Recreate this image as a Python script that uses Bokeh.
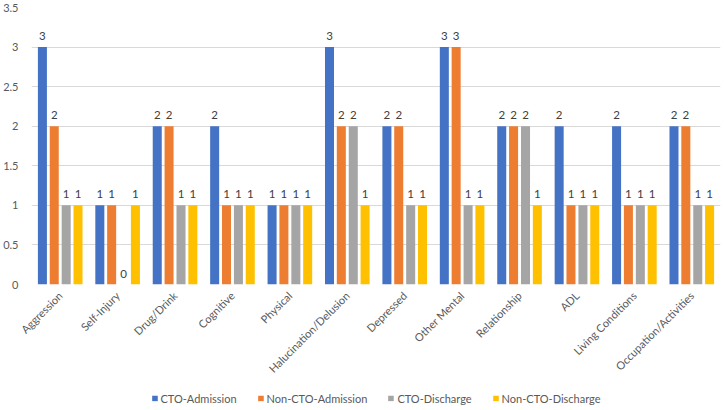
import math
from bokeh.plotting import figure
from bokeh.layouts import column
from bokeh.models import ColumnDataSource, FactorRange, Legend, LegendItem
from bokeh.transform import dodge
from bokeh.core.properties import value
from bokeh.embed import file_html
from bokeh.resources import INLINE

categories = ["Aggression", "Self-Injury", "Drug/Drink", "Cognitive", "Physical",
              "Halucination/Delusion", "Depressed", "Other Mental", "Relationship",
              "ADL", "Living Conditions", "Occupation/Activities"]
series_names = ["CTO-Admission", "Non-CTO-Admission", "CTO-Discharge", "Non-CTO-Discharge"]
cto_admission = [3, 1, 2, 2, 1, 3, 2, 3, 2, 2, 2, 2]
non_cto_admission = [2, 1, 2, 1, 1, 2, 2, 3, 2, 1, 1, 2]
cto_discharge = [1, 0, 1, 1, 1, 2, 1, 1, 2, 1, 1, 1]
non_cto_discharge = [1, 1, 1, 1, 1, 1, 1, 1, 1, 1, 1, 1]
y_ticks = [0, 0.5, 1, 1.5, 2, 2.5, 3, 3.5]

colors = ["#4472C4", "#ED7D31", "#A5A5A5", "#FFC000"]
offsets = [-0.31, -0.104, 0.104, 0.31]
FONT = "Lato"

src = ColumnDataSource(dict(
    cat=categories,
    s0=cto_admission, s1=non_cto_admission, s2=cto_discharge, s3=non_cto_discharge,
    l0=[str(v) for v in cto_admission], l1=[str(v) for v in non_cto_admission],
    l2=[str(v) for v in cto_discharge], l3=[str(v) for v in non_cto_discharge],
))

p = figure(width=725, height=388, x_range=FactorRange(*categories, range_padding=0),
           y_range=(0, 3.5), output_backend="svg", toolbar_location=None,
           min_border_left=30, min_border_right=5, min_border_top=7, min_border_bottom=104)
p.background_fill_color = "white"
p.border_fill_color = "white"
p.outline_line_color = None

for i in range(4):
    p.vbar(x=dodge("cat", offsets[i], range=p.x_range), top="s%d" % i, width=0.157,
           source=src, fill_color=colors[i], line_color=None)
    p.text(x=dodge("cat", offsets[i], range=p.x_range), y="s%d" % i, text="l%d" % i,
           source=src, text_align="center", text_baseline="bottom", y_offset=-7,
           text_font=value(FONT), text_font_size="11.5px", text_color="#404040")

p.yaxis.ticker = y_ticks
for ax in (p.xaxis, p.yaxis):
    ax.axis_line_color = None
    ax.major_tick_line_color = None
    ax.minor_tick_line_color = None
    ax.major_tick_out = 0
    ax.major_tick_in = 0
    ax.minor_tick_out = 0
    ax.major_label_text_font = FONT
    ax.major_label_text_font_size = "11px"
    ax.major_label_text_color = "#595959"
p.yaxis.major_label_standoff = 13
p.xaxis.major_label_orientation = math.pi / 4
p.xaxis.major_label_standoff = 9
p.xgrid.grid_line_color = None
p.ygrid.grid_line_color = "#D9D9D9"
p.ygrid.ticker = y_ticks

# legend strip (bars drawn far outside its visible range)
p2 = figure(width=725, height=20, x_range=FactorRange(*categories), y_range=(100, 101),
            output_backend="svg", toolbar_location=None, x_axis_type=None, y_axis_type=None,
            min_border=0)
p2.outline_line_color = None
p2.xgrid.grid_line_color = None
p2.ygrid.grid_line_color = None
items = []
for i in range(4):
    r = p2.vbar(x="cat", top="s%d" % i, width=0.1, source=src,
                fill_color=colors[i], line_color=None)
    items.append(LegendItem(label=series_names[i], renderers=[r]))
legend = Legend(items=items, orientation="horizontal", location="center",
                label_text_font=FONT, label_text_font_size="11px", label_text_color="#595959",
                glyph_width=7, glyph_height=7, label_standoff=3, spacing=20,
                border_line_color=None, background_fill_alpha=0, padding=0, margin=0)
p2.add_layout(legend, "center")

layout = column(p, p2, spacing=0)
open("out.html", "w").write(file_html(layout, INLINE))
